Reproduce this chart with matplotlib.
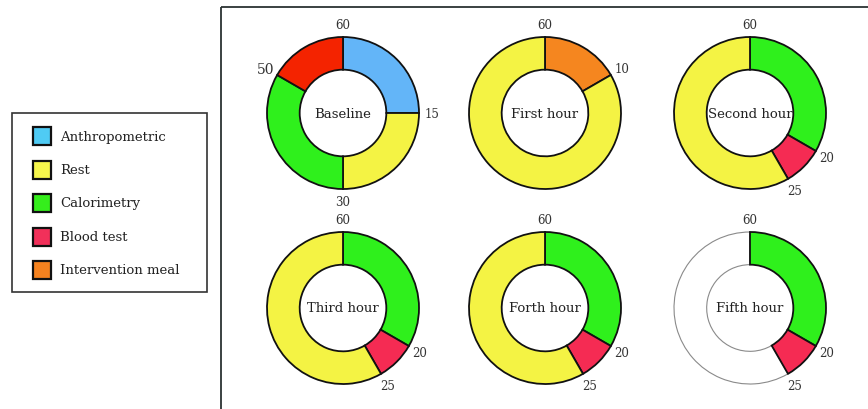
import numpy as np
import matplotlib
matplotlib.use("Agg")
import matplotlib.pyplot as plt
from matplotlib.patches import Rectangle

# Activities shown in the legend
activities = ["Anthropometric", "Rest", "Calorimetry", "Blood test", "Intervention meal"]
legend_colors = ["#4fcbf4", "#f6f64c", "#35ee1c", "#f1305a", "#f5821f"]

# Ring fill colours per activity
ring_colors = {
    "Anthropometric": "#63b5f8",
    "Rest": "#f4f344",
    "Calorimetry": "#2ff01c",
    "Blood test": "#f52b53",
    "Intervention meal": "#f5861f",
    None: "white",
}

# One hour of protocol per ring, minutes of each activity clockwise from 12 o'clock
panel_names = ["Baseline", "First hour", "Second hour", "Third hour", "Forth hour", "Fifth hour"]
panel_activities = [
    ["Anthropometric", "Rest", "Calorimetry", "Blood test"],
    ["Intervention meal", "Rest"],
    ["Calorimetry", "Blood test", "Rest"],
    ["Calorimetry", "Blood test", "Rest"],
    ["Calorimetry", "Blood test", "Rest"],
    ["Calorimetry", "Blood test", None],
]
panel_minutes = [
    [15, 15, 20, 10],
    [10, 50],
    [20, 5, 35],
    [20, 5, 35],
    [20, 5, 35],
    [20, 5, 35],
]

W, H = 868, 410
fig = plt.figure(figsize=(W / 100, H / 100), dpi=100)
ax = fig.add_axes([0, 0, 1, 1])

serif = "DejaVu Serif"
label_color = "#333333"

# grid of ring centres (pixels, y measured from top)
centers_x = [343, 545, 750]
centers_y = [114, 309]
R = 76
ring_w = 0.43 * R

for i, (name, acts, mins) in enumerate(zip(panel_names, panel_activities, panel_minutes)):
    cx = centers_x[i % 3]
    cy = H - centers_y[i // 3]
    cols = [ring_colors[a] for a in acts]
    if name == "Baseline":
        cols[-1] = "#f42300"
    wedges, _ = ax.pie(mins, colors=cols, startangle=90, counterclock=False,
                       center=(cx, cy), radius=R, frame=True,
                       wedgeprops=dict(width=ring_w, edgecolor="#111111", linewidth=1.3))
    for w, a in zip(wedges, acts):
        if a is None:
            w.set_edgecolor("#8a8a8a")
            w.set_linewidth(0.8)
            w.set_zorder(0.5)
    ax.text(cx, cy, name, ha="center", va="center", fontsize=9.5,
            family=serif, color="#222222")
    # minute marks at each boundary
    cum = np.cumsum(mins)
    for k, c in enumerate(cum):
        ang = np.deg2rad(90 - 360 * c / 60)
        rr = R * 1.17
        size = 8.5
        if name == "Baseline" and c == 50:
            size = 10
        ax.text(cx + rr * np.cos(ang), cy + rr * np.sin(ang), f"{c}",
                ha="center", va="center", fontsize=size, family=serif,
                color=label_color)

# outer frame around the rings (open on the right and bottom)
ax.plot([221, 221], [-5, H - 8], color="#2b3333", lw=1.3, solid_capstyle="butt")
ax.plot([221, W + 5], [H - 8, H - 8], color="#2b3333", lw=1.3, solid_capstyle="butt")

# legend box with swatches
ax.add_patch(Rectangle((12, H - 293), 195, 179, facecolor="white",
                       edgecolor="#333333", lw=1.2))
row0, step = 137, 33.5
for k, (a, c) in enumerate(zip(activities, legend_colors)):
    yc = H - (row0 + k * step)
    ax.add_patch(Rectangle((33, yc - 9), 18, 18, facecolor=c,
                           edgecolor="#111111", lw=1.6))
    ax.text(60, yc, a, ha="left", va="center", fontsize=9.5,
            family=serif, color="#222222")

ax.set_xlim(0, W)
ax.set_ylim(0, H)
ax.set_aspect("equal")
ax.axis("off")

fig.savefig("out.png", dpi=100)
